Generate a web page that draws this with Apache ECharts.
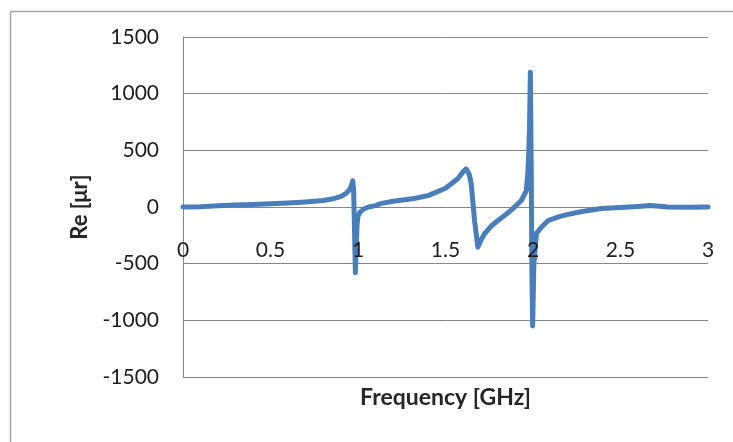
<!DOCTYPE html>
<html>
<head>
<meta charset="utf-8">
<script src="https://cdn.jsdelivr.net/npm/echarts@6/dist/echarts.min.js"></script>
<style>html,body{margin:0;padding:0;background:#fff}#c{width:733px;height:442px}</style>
</head>
<body>
<div id="c"></div>
<script>
var freq = [0, 0.1, 0.2, 0.3, 0.4, 0.5, 0.6, 0.7, 0.8, 0.85, 0.9, 0.93, 0.95, 0.96, 0.97, 0.975, 0.98, 0.985, 0.99, 0.995, 1.0, 1.01, 1.03, 1.06, 1.1, 1.128, 1.2, 1.32, 1.4, 1.5, 1.57, 1.6, 1.618, 1.635, 1.647, 1.666, 1.685, 1.7, 1.723, 1.76, 1.8, 1.85, 1.895, 1.933, 1.962, 1.97, 1.975, 1.98, 1.985, 1.99, 1.994, 1.998, 2.005, 2.02, 2.048, 2.087, 2.15, 2.2, 2.28, 2.39, 2.5, 2.6, 2.67, 2.77, 2.9, 3.0];
var reVal = [0, 3, 12, 18, 22, 28, 35, 45, 57, 70, 92, 118, 150, 180, 230, 150, -200, -580, -350, -150, -80, -50, -20, 0, 12, 30, 50, 75, 100, 165, 250, 310, 336, 290, 206, -119, -354, -300, -236, -170, -119, -60, 0, 57, 145, 290, 450, 700, 1190, 300, -600, -1050, -500, -233, -178, -119, -85, -65, -40, -13, -5, 5, 13, 0, -3, 0];
var yTicks = [-1500, -1000, -500, 0, 500, 1000, 1500];
var xTicks = [0, 0.5, 1, 1.5, 2, 2.5, 3];

var data = freq.map(function (f, i) { return [f, reVal[i]]; });
var chart = echarts.init(document.getElementById('c'), null, { renderer: 'canvas' });
var fontFam = 'Lato, "Open Sans", sans-serif';
chart.setOption({
  backgroundColor: '#ffffff',
  animation: false,
  graphic: [
    { type: 'line', shape: { x1: 10.5, y1: 11.5, x2: 733, y2: 11.5 }, style: { stroke: '#a6a6a6', lineWidth: 1.5 } },
    { type: 'line', shape: { x1: 10.5, y1: 11.5, x2: 10.5, y2: 442 }, style: { stroke: '#a6a6a6', lineWidth: 1.5 } }
  ],
  grid: { left: 183, right: 25, top: 37, bottom: 65, containLabel: false, outerBoundsMode: 'none' },
  xAxis: {
    type: 'value', min: xTicks[0], max: xTicks[xTicks.length - 1], interval: 0.5,
    position: 'bottom', offset: -170, z: 4,
    name: 'Frequency [GHz]', nameLocation: 'middle', nameGap: 179,
    nameTextStyle: { fontFamily: fontFam, fontWeight: 'bold', fontSize: 23, color: '#262626' },
    axisLine: { show: false, onZero: false },
    axisTick: { show: false },
    axisLabel: { margin: 33, fontFamily: fontFam, fontSize: 21, color: '#1e1e1e', formatter: function (v) { return String(v); } },
    splitLine: { show: false }
  },
  yAxis: {
    type: 'value', min: yTicks[0], max: yTicks[yTicks.length - 1], interval: 500,
    name: 'Re [μr]', nameLocation: 'middle', nameGap: 92,
    nameTextStyle: { fontFamily: fontFam, fontWeight: 'bold', fontSize: 22, color: '#262626' },
    axisLine: { show: true, lineStyle: { color: '#868686', width: 1 } },
    axisTick: { show: false },
    axisLabel: { margin: 24, fontFamily: fontFam, fontSize: 21, color: '#1e1e1e', formatter: function (v) { return String(v); } },
    splitLine: { show: true, lineStyle: { color: '#868686', width: 1 } }
  },
  series: [{
    type: 'line', data: data, showSymbol: false, symbol: 'none',
    lineStyle: { color: '#4a7ebb', width: 5, join: 'round', cap: 'round' },
    z: 2
  }]
});
</script>
</body>
</html>
